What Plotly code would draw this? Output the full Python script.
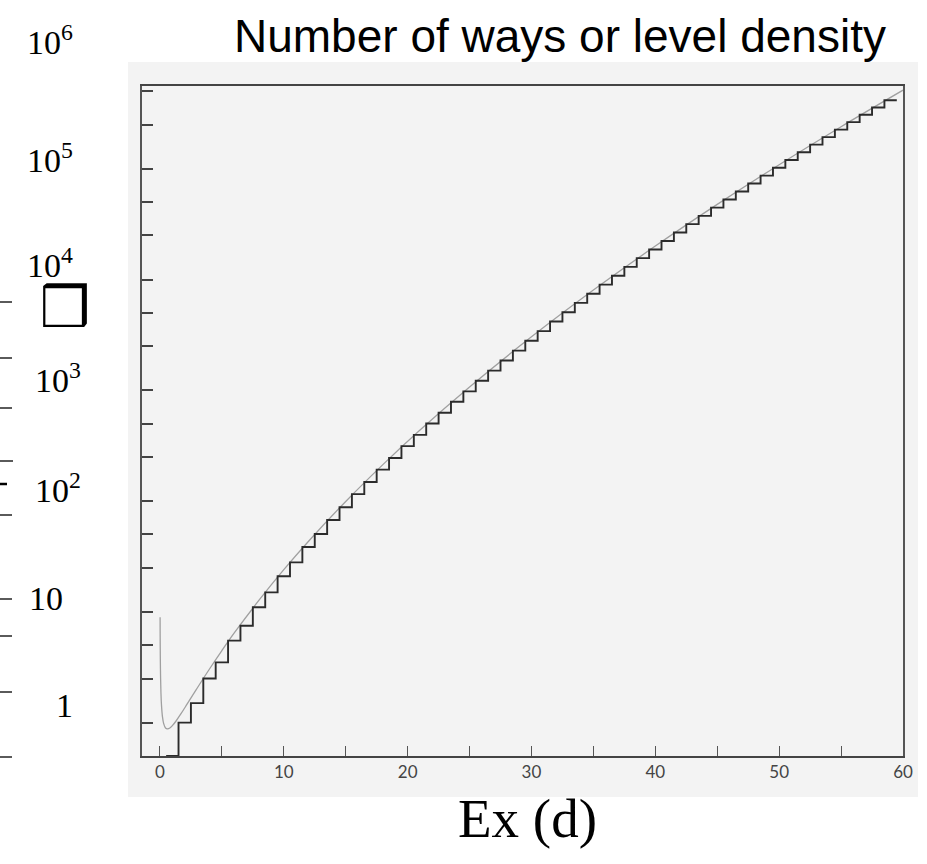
import plotly.graph_objects as go

# ---------------- data ----------------
# excitation energy in units of d (step index n) and number of ways p(n)
n_levels = list(range(1, 60))
ways = [1, 2, 3, 5, 7, 11, 15, 22, 30, 42,
        56, 77, 101, 135, 176, 231, 297, 385, 490, 627,
        792, 1002, 1255, 1575, 1958, 2436, 3010, 3718, 4565, 5604,
        6842, 8349, 10143, 12310, 14883, 17977, 21637, 26015, 31185, 37338,
        44583, 53174, 63261, 75175, 89134, 105558, 124754, 147273, 173525, 204226,
        239943, 281589, 329931, 386155, 451276, 526823, 614154, 715220, 831820]

# smooth level-density curve
smooth_x = [0.0105, 0.015, 0.02, 0.03, 0.05, 0.08, 0.12, 0.2, 0.3, 0.45, 0.6, 0.8,
            1, 1.3, 1.7, 2.2, 3, 4, 5, 6, 8, 10, 12, 15, 18, 21, 25, 30, 35, 40,
            45, 50, 55, 60]
smooth_y = [17.9, 13.2, 10.4, 7.5, 5.12, 3.73, 2.93, 2.27, 1.96, 1.79, 1.76, 1.79,
            1.88, 2.07, 2.41, 2.95, 4.09, 6.10, 8.94, 12.9, 25.5, 48.1, 86.9, 198.5,
            427, 876, 2145, 6080, 16064, 40080, 95315, 217590, 479390, 1024040]

x_tick_vals = [0, 5, 10, 15, 20, 25, 30, 35, 40, 45, 50, 55, 60]
x_tick_text = ["0", "", "10", "", "20", "", "30", "", "40", "", "50", "", "60"]
y_tick_vals = [1, 2, 5, 10, 20, 50, 100, 200, 500, 1e3, 2e3, 5e3, 1e4, 2e4, 5e4,
               1e5, 2e5, 5e5, 1e6]

side_labels = ["10<sup>6</sup>", "10<sup>5</sup>", "10<sup>4</sup>", "10<sup>3</sup>",
               "10<sup>2</sup>", "10", "1"]

title_text = "Number of ways or level density"
x_title = "Ex (d)"

# ---------------- layout geometry (pixels) ----------------
W, H = 927, 864
L, R, T, B = 142, 24, 86, 108
PW, PH = W - L - R, H - T - B


def px(x):
    return (x - L) / PW


def py(y):
    return (H - B - y) / PH


step_x = [n - 0.5 for n in n_levels] + [n_levels[-1] + 0.5]
step_y = ways + [ways[-1]]

fig = go.Figure()
fig.add_trace(go.Scatter(x=smooth_x, y=smooth_y, mode="lines",
                         line=dict(color="#a0a0a0", width=1.3, shape="spline"),
                         showlegend=False, hoverinfo="skip"))
fig.add_trace(go.Scatter(x=step_x, y=step_y, mode="lines",
                         line=dict(color="#2b2b2b", width=1.9, shape="hv"),
                         showlegend=False, hoverinfo="skip"))

shapes = [
    # scanned page background
    dict(type="rect", xref="paper", yref="paper", x0=px(128), x1=px(918),
         y0=py(797), y1=py(62), fillcolor="#f3f3f3", line=dict(width=0),
         layer="below"),
]
# stray dashes at far left
for yy, ww, lw in [(302, 12, 1.3), (358, 12, 1.3), (408, 12, 1.3), (461, 13, 1.3),
                   (484, 7, 2.5), (515, 12, 1.3), (599, 12, 1.3), (636, 12, 1.3),
                   (692, 12, 1.3), (757, 12, 1.3)]:
    shapes.append(dict(type="line", xref="paper", yref="paper", x0=px(0),
                       x1=px(ww), y0=py(yy), y1=py(yy),
                       line=dict(color="black", width=lw)))

annotations = [
    dict(text=title_text, xref="paper", yref="paper", x=px(560), y=py(36),
         showarrow=False, font=dict(family="Liberation Sans, Arial", size=46,
                                    color="black"),
         xanchor="center", yanchor="middle"),
    dict(text=x_title, xref="paper", yref="paper", x=px(527), y=py(818),
         showarrow=False, font=dict(family="Liberation Serif, Times New Roman",
                                    size=55, color="black"),
         xanchor="center", yanchor="middle"),
    dict(text="\u2752", xref="paper", yref="paper", x=px(65), y=py(307),
         showarrow=False, font=dict(family="DejaVu Sans", size=56, color="black"),
         xanchor="center", yanchor="middle"),
]
label_pos = [(25, 40), (25, 158), (25, 263), (33, 378), (33, 488), (27, 598), (54, 705)]
for txt, (lx, ly) in zip(side_labels, label_pos):
    annotations.append(dict(text=txt, xref="paper", yref="paper", x=px(lx),
                            y=py(ly), showarrow=False, xanchor="left",
                            yanchor="middle",
                            font=dict(family="Liberation Serif, Times New Roman",
                                      size=34, color="black")))

fig.update_layout(
    width=W, height=H,
    margin=dict(l=L, r=R, t=T, b=B, pad=0),
    paper_bgcolor="white", plot_bgcolor="#f3f3f3",
    shapes=shapes, annotations=annotations,
    xaxis=dict(range=[-1.45, 60], tickmode="array", tickvals=x_tick_vals,
               ticktext=x_tick_text, ticks="inside", ticklen=10, tickwidth=1.2,
               tickcolor="#555", showgrid=False, zeroline=False,
               showline=True, linecolor="#444", linewidth=1.6, mirror=True,
               tickfont=dict(family="Lato, DejaVu Sans", size=17, color="#444")),
    yaxis=dict(type="log", range=[0, 6.048], tickmode="array", tickvals=y_tick_vals,
               ticks="inside", ticklen=11, tickwidth=1.6, tickcolor="#444",
               showticklabels=False, showgrid=False, zeroline=False,
               showline=True, linecolor="#555", linewidth=1.6, mirror=True),
)

fig.write_html("out.html")
